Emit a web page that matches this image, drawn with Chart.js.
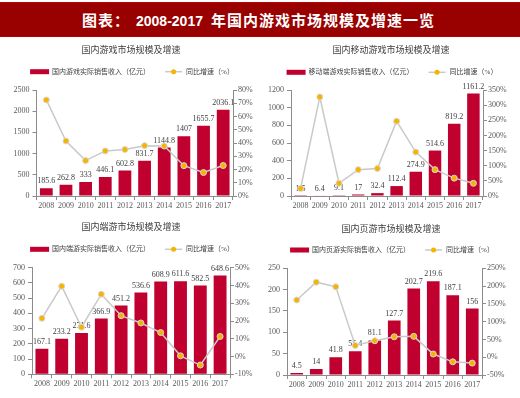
<!DOCTYPE html>
<html>
<head>
<meta charset="utf-8">
<script src="https://cdn.jsdelivr.net/npm/chart.js@4.4.0/dist/chart.umd.min.js"></script>
<style>
  body { margin: 0; width: 520px; height: 398px; background: #fff; position: relative; overflow: hidden; }
  #header {
    position: absolute; left: 0; top: 2px; width: 520px; height: 35px;
    background: #990000; border-top: 1px solid #b80000; border-bottom: 1px solid #b80000;
    box-sizing: border-box; color: #fff; font-weight: bold; white-space: nowrap;
    padding-left: 82px; line-height: 33px;
  }
  #header .cn { font-family: "Noto Sans CJK SC", sans-serif; font-size: 15px; letter-spacing: 1px; }
  #header .num { font-family: "Liberation Sans", Arial, sans-serif; font-size: 14px; margin-left: 6px; margin-right: 8px; }
  .box { position: absolute; }
</style>
</head>
<body>
<div id="header"><span class="cn">图表：</span><span class="num">2008-2017</span><span class="cn">年国内游戏市场规模及增速一览</span></div>
<div class="box" style="left:0;top:40px;"><canvas id="c1" width="260" height="175"></canvas></div>
<div class="box" style="left:260px;top:40px;"><canvas id="c2" width="260" height="175"></canvas></div>
<div class="box" style="left:0;top:215px;"><canvas id="c3" width="260" height="183"></canvas></div>
<div class="box" style="left:260px;top:215px;"><canvas id="c4" width="260" height="183"></canvas></div>
<script>
const years = ['2008', '2009', '2010', '2011', '2012', '2013', '2014', '2015', '2016', '2017'];

// 国内游戏 (亿元, %)
const totalRevenue = [185.6, 262.8, 333, 446.1, 602.8, 831.7, 1144.8, 1407, 1655.7, 2036.1];
const totalGrowth = [72.5, 41.5, 26.7, 34.0, 35.1, 38.0, 37.7, 22.9, 17.7, 23.0];

// 移动游戏
const mobileRevenue = [1.5, 6.4, 9.1, 17, 32.4, 112.4, 274.9, 514.6, 819.2, 1161.2];
const mobileGrowth = [25, 327, 42, 87, 90.6, 247, 145, 87, 59, 42];

// 端游
const clientRevenue = [167.1, 233.2, 271.6, 366.9, 451.2, 536.6, 608.9, 611.6, 582.5, 648.6];
const clientGrowth = [21.5, 39.6, 16.5, 35.1, 23.0, 18.9, 13.5, 0.4, -4.8, 11.3];

// 页游
const webRevenue = [4.5, 14, 41.8, 55.4, 81.1, 127.7, 202.7, 219.6, 187.1, 156];
const webGrowth = [161, 211, 198, 33, 46.4, 57.5, 58.6, 9, -13, -16.6];

const FONT = "'Liberation Serif', 'Noto Sans CJK SC', serif";
const BAR_COLOR = '#c0002f';
const LINE_COLOR = '#c9c9c9';
const DOT_COLOR = '#f5b400';
const AXIS_COLOR = '#8c8c8c';
const TEXT_COLOR = '#404040';

Chart.defaults.font.family = FONT;
Chart.defaults.font.size = 8;
Chart.defaults.color = '#595959';

// 柱子上方的数值（画在折线之前）
const barValueLabels = {
  id: 'barValueLabels',
  afterDatasetDraw(chart, args) {
    if (args.index !== 0) return;
    const ctx = chart.ctx;
    const values = chart.data.datasets[0].data;
    ctx.save();
    ctx.font = '8px ' + FONT;
    ctx.fillStyle = TEXT_COLOR;
    ctx.textAlign = 'center';
    ctx.textBaseline = 'bottom';
    args.meta.data.forEach((bar, i) => {
      ctx.fillText(String(values[i]), bar.x, bar.y - 3);
    });
    ctx.restore();
  }
};

// 小标题 + 图例
const titleLegend = {
  id: 'titleLegend',
  afterDraw(chart, args, opts) {
    const ctx = chart.ctx;
    const w = chart.width;
    ctx.save();
    ctx.fillStyle = TEXT_COLOR;
    ctx.textBaseline = 'middle';
    ctx.textAlign = 'center';
    ctx.font = '9px ' + FONT;
    ctx.fillText(opts.title, w / 2 + 1, opts.titleY);

    ctx.font = '7px ' + FONT;
    ctx.textAlign = 'left';
    const barText = chart.data.datasets[0].label;
    const lineText = chart.data.datasets[1].label;
    const w1 = ctx.measureText(barText).width;
    const w2 = ctx.measureText(lineText).width;
    const total = 19 + 3 + w1 + 15 + 17 + 4 + w2;
    let x = w / 2 + 2 - total / 2;
    const y = opts.legendY;
    ctx.fillStyle = BAR_COLOR;
    ctx.fillRect(x, y - 2.5, 19, 5);
    x += 22;
    ctx.fillStyle = TEXT_COLOR;
    ctx.fillText(barText, x, y);
    x += w1 + 15;
    ctx.strokeStyle = LINE_COLOR;
    ctx.lineWidth = 1.5;
    ctx.beginPath(); ctx.moveTo(x, y); ctx.lineTo(x + 17, y); ctx.stroke();
    ctx.beginPath(); ctx.arc(x + 8.5, y, 2.5, 0, Math.PI * 2);
    ctx.fillStyle = DOT_COLOR; ctx.fill();
    x += 21;
    ctx.fillStyle = TEXT_COLOR;
    ctx.fillText(lineText, x, y);
    ctx.restore();
  }
};

function makeChart(id, title, barLabel, bars, growth, left, right, lay) {
  const ctx = document.getElementById(id).getContext('2d');
  return new Chart(ctx, {
    type: 'bar',
    data: {
      labels: years,
      datasets: [{
        label: barLabel,
        data: bars,
        backgroundColor: BAR_COLOR,
        barPercentage: 0.65,
        categoryPercentage: 1,
        yAxisID: 'y',
        order: 1
      }, {
        type: 'line',
        label: '同比增速（%）',
        data: growth,
        borderColor: LINE_COLOR,
        borderWidth: 1.5,
        pointRadius: 3,
        pointBackgroundColor: DOT_COLOR,
        pointBorderColor: '#d8d8d8',
        pointBorderWidth: 1,
        tension: 0,
        yAxisID: 'y2',
        order: 0
      }]
    },
    options: {
      responsive: false,
      animation: false,
      layout: { padding: { top: lay.top, bottom: 0, left: 0, right: 0 } },
      plugins: {
        legend: { display: false },
        tooltip: { enabled: false },
        titleLegend: { title: title, titleY: lay.titleY, legendY: lay.legendY }
      },
      scales: {
        x: {
          grid: { drawOnChartArea: false, tickLength: 4, color: AXIS_COLOR },
          border: { color: AXIS_COLOR },
          ticks: { padding: 1, maxRotation: 0, autoSkip: false },
          afterFit: s => { s.height = lay.xh; }
        },
        y: {
          position: 'left',
          min: 0, max: left.max,
          ticks: { stepSize: left.step, padding: 3, callback: v => String(v) },
          grid: { drawOnChartArea: false, tickLength: 4, color: AXIS_COLOR },
          border: { color: AXIS_COLOR },
          afterFit: s => { s.width = lay.left; }
        },
        y2: {
          position: 'right',
          min: right.min, max: right.max,
          ticks: { stepSize: right.step, padding: 1, callback: v => v + '%' },
          grid: { drawOnChartArea: false, tickLength: 4, color: AXIS_COLOR },
          border: { color: AXIS_COLOR },
          afterFit: s => { s.width = lay.right; }
        }
      }
    },
    plugins: [barValueLabels, titleLegend]
  });
}

window.onload = () => {
  makeChart('c1', '国内游戏市场规模及增速', '国内游戏实际销售收入（亿元）',
    totalRevenue, totalGrowth,
    { max: 2500, step: 500 }, { min: 0, max: 80, step: 10 },
    { top: 50, xh: 19, left: 36.5, right: 27, titleY: 11, legendY: 31.7 });
  makeChart('c2', '国内移动游戏市场规模及增速', '移动端游戏实际销售收入（亿元）',
    mobileRevenue, mobileGrowth,
    { max: 1200, step: 200 }, { min: 0, max: 350, step: 50 },
    { top: 50, xh: 19, left: 31, right: 37, titleY: 11, legendY: 32.3 });
  makeChart('c3', '国内端游市场规模及增速', '国内端游实际销售收入（亿元）',
    clientRevenue, clientGrowth,
    { max: 700, step: 100 }, { min: -10, max: 50, step: 10 },
    { top: 52.7, xh: 23.7, left: 32, right: 30, titleY: 13, legendY: 34.3 });
  makeChart('c4', '国内页游市场规模及增速', '国内页游实际销售收入（亿元）',
    webRevenue, webGrowth,
    { max: 250, step: 50 }, { min: -50, max: 250, step: 50 },
    { top: 53.3, xh: 23, left: 27, right: 38, titleY: 15, legendY: 35 });
};
</script>
</body>
</html>
